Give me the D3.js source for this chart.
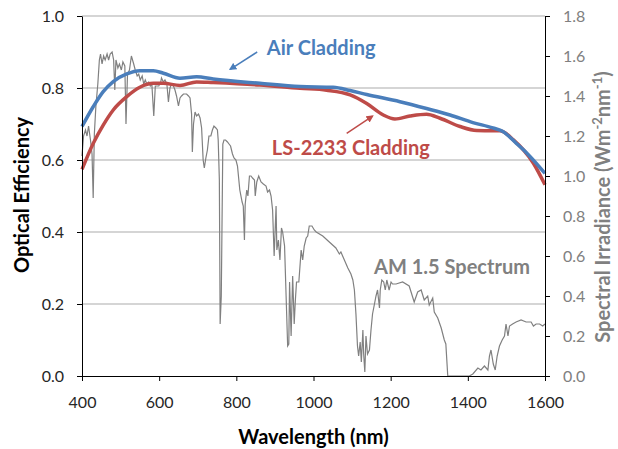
<!DOCTYPE html>
<html>
<head>
<meta charset="utf-8">
<script src="https://cdn.jsdelivr.net/npm/d3@7"></script>
<style>
  body { margin: 0; background: #fff; }
  svg { display: block; font-family: Lato, "Open Sans", sans-serif; }
</style>
</head>
<body>
<div id="chart"></div>
<script>
// Optical efficiency (left axis) and AM 1.5 spectrum (right axis) vs wavelength
const airWl  = [400, 429, 455, 481, 516, 550, 585, 611, 654, 697, 740, 861, 965, 1051, 1095, 1138, 1224, 1293, 1354, 1413, 1465, 1491, 1526, 1553, 1600];
const airEff = [0.693, 0.748, 0.790, 0.818, 0.839, 0.848, 0.848, 0.841, 0.827, 0.831, 0.825, 0.813, 0.804, 0.802, 0.793, 0.782, 0.762, 0.743, 0.725, 0.704, 0.689, 0.679, 0.646, 0.619, 0.563];

const lsWl  = [400, 429, 455, 481, 516, 550, 585, 611, 654, 697, 740, 861, 965, 1034, 1095, 1138, 1181, 1211, 1250, 1293, 1328, 1380, 1423, 1484, 1518, 1570, 1600];
const lsEff = [0.574, 0.646, 0.697, 0.739, 0.776, 0.802, 0.813, 0.813, 0.807, 0.817, 0.815, 0.808, 0.799, 0.794, 0.781, 0.757, 0.725, 0.714, 0.722, 0.727, 0.716, 0.693, 0.682, 0.681, 0.656, 0.591, 0.531];

const specWl = [400, 404, 409, 413, 417, 422, 426, 429, 432, 436, 441, 445, 448, 452, 456, 460, 465, 469, 473, 478, 482, 485, 488, 493, 497, 502, 506, 511, 514, 518, 523, 528, 534, 538, 543, 547, 551, 556, 560, 564, 568, 573, 577, 581, 586, 590, 599,
  604, 606, 611, 615, 620, 624, 628, 632, 637, 641, 645, 650, 654, 658, 663, 671, 676, 680, 684, 686, 689, 693, 697, 702, 706, 710, 714, 717, 721, 725, 729, 734, 738, 742, 747, 751, 753, 756, 758, 761, 765, 768, 772, 777, 781, 785, 790, 794, 799,
  803, 809, 815, 818, 821, 823, 827, 830, 834, 838, 842, 847, 849, 853, 858, 864, 870, 877, 881, 886, 890, 894, 898, 903, 905, 909, 913, 917, 920, 925, 929, 933, 936, 938, 942, 946, 950, 953, 956, 962, 968, 972, 976, 981, 985, 989, 996,
  1002, 1007, 1024, 1041, 1058, 1067, 1071, 1080, 1089, 1097, 1102, 1106, 1110, 1114, 1117, 1121, 1124, 1128, 1130, 1133, 1136, 1140, 1145, 1149, 1153, 1158, 1162, 1166, 1171, 1173, 1177, 1182, 1186, 1190, 1196, 1201, 1205,
  1214, 1231, 1248, 1261, 1270, 1279, 1287, 1296, 1300, 1309, 1313, 1322, 1331, 1339, 1343, 1348, 1404, 1413, 1426, 1434, 1443, 1452, 1456, 1460, 1466, 1471, 1476, 1482, 1489, 1495, 1499, 1504, 1508, 1516, 1525, 1538, 1551, 1564, 1570, 1577, 1586, 1594, 1600];
const specIrr = [1.10, 1.20, 1.23, 1.20, 1.25, 1.18, 1.11, 0.89, 1.21, 1.35, 1.46, 1.58, 1.61, 1.56, 1.60, 1.58, 1.61, 1.58, 1.61, 1.62, 1.58, 1.43, 1.58, 1.54, 1.56, 1.53, 1.57, 1.55, 1.26, 1.51, 1.53, 1.60, 1.56, 1.53, 1.50, 1.51, 1.48, 1.50, 1.46, 1.48, 1.46, 1.47, 1.45, 1.46, 1.30, 1.45, 1.45,
  1.47, 1.49, 1.47, 1.48, 1.46, 1.37, 1.44, 1.46, 1.45, 1.43, 1.40, 1.35, 1.39, 1.40, 1.41, 1.41, 1.40, 1.39, 1.31, 1.12, 1.26, 1.32, 1.30, 1.31, 1.29, 1.24, 1.08, 1.04, 1.09, 1.13, 1.20, 1.20, 1.23, 1.25, 1.24, 1.23, 1.18, 0.98, 0.26, 0.40, 1.16, 1.18, 1.18, 1.17, 1.16, 1.15, 1.11, 1.09, 1.08,
  1.05, 0.93, 0.87, 0.85, 0.68, 0.86, 0.93, 0.90, 1.00, 1.00, 0.99, 0.98, 0.90, 0.97, 1.00, 0.97, 0.96, 0.95, 0.92, 0.93, 0.90, 0.83, 0.60, 0.85, 0.63, 0.68, 0.58, 0.74, 0.72, 0.65, 0.40, 0.15, 0.16, 0.47, 0.20, 0.50, 0.26, 0.38, 0.47, 0.47, 0.63, 0.58, 0.65, 0.69, 0.70, 0.75, 0.75,
  0.73, 0.72, 0.70, 0.67, 0.64, 0.61, 0.62, 0.58, 0.54, 0.51, 0.48, 0.43, 0.31, 0.15, 0.10, 0.17, 0.07, 0.23, 0.11, 0.02, 0.20, 0.11, 0.13, 0.23, 0.31, 0.36, 0.40, 0.43, 0.34, 0.43, 0.48, 0.47, 0.43, 0.48, 0.43, 0.47, 0.46,
  0.46, 0.47, 0.45, 0.37, 0.42, 0.43, 0.38, 0.40, 0.355, 0.39, 0.32, 0.29, 0.24, 0.18, 0.16, 0.00, 0.00, 0.01, 0.04, 0.03, 0.05, 0.03, 0.10, 0.13, 0.06, 0.03, 0.10, 0.15, 0.18, 0.20, 0.26, 0.20, 0.25, 0.26, 0.27, 0.28, 0.27, 0.27, 0.25, 0.26, 0.26, 0.25, 0.26];

const xTicks  = [400, 600, 800, 1000, 1200, 1400, 1600];
const yTicks  = [0, 0.2, 0.4, 0.6, 0.8, 1.0];
const y2Ticks = [0, 0.2, 0.4, 0.6, 0.8, 1.0, 1.2, 1.4, 1.6, 1.8];

const width = 618, height = 449;
const margin = { top: 16, right: 73, bottom: 73, left: 82 };
const innerW = width - margin.left - margin.right;
const innerH = height - margin.top - margin.bottom;

const blue = "#4a7ebb", red = "#be4b48", grey = "#808080";

const svg = d3.select("#chart").append("svg")
    .attr("width", width).attr("height", height);

const defs = svg.append("defs");
[["arrowBlue", blue], ["arrowRed", red]].forEach(([id, c]) => {
    defs.append("marker").attr("id", id)
        .attr("viewBox", "0 0 10 10").attr("refX", 8).attr("refY", 5)
        .attr("markerWidth", 5).attr("markerHeight", 5).attr("orient", "auto")
        .append("path").attr("d", "M0,0L10,5L0,10z").attr("fill", c);
});

const g = svg.append("g").attr("transform", `translate(${margin.left},${margin.top})`);

const x  = d3.scaleLinear().domain([400, 1600]).range([0, innerW]);
const y  = d3.scaleLinear().domain([0, 1.0]).range([innerH, 0]);
const y2 = d3.scaleLinear().domain([0, 1.8]).range([innerH, 0]);

// Gridlines
g.append("g").selectAll("line").data(yTicks.filter(d => d > 0)).join("line")
    .attr("x1", 0).attr("x2", innerW)
    .attr("y1", d => y(d)).attr("y2", d => y(d))
    .attr("stroke", "#ababab").attr("stroke-width", 1);

// Spectrum
const specData = specWl.map((w, i) => ({ w, v: specIrr[i] }));
g.append("path").datum(specData)
    .attr("fill", "none").attr("stroke", grey).attr("stroke-width", 1.2)
    .attr("d", d3.line().x(d => x(d.w)).y(d => y2(d.v)));

// Efficiency curves
const effLine = d3.line().x(d => x(d.w)).y(d => y(d.v)).curve(d3.curveMonotoneX);
const lsData  = lsWl.map((w, i) => ({ w, v: lsEff[i] }));
const airData = airWl.map((w, i) => ({ w, v: airEff[i] }));
g.append("path").datum(lsData)
    .attr("fill", "none").attr("stroke", red).attr("stroke-width", 3.5)
    .attr("d", effLine);
g.append("path").datum(airData)
    .attr("fill", "none").attr("stroke", blue).attr("stroke-width", 3.5)
    .attr("d", effLine);

// Axes
const xAxis = g.append("g").attr("transform", `translate(0,${innerH})`)
    .call(d3.axisBottom(x).tickValues(xTicks).tickFormat(d3.format("d"))
        .tickSize(5).tickPadding(16).tickSizeOuter(0));
const yAxis = g.append("g")
    .call(d3.axisLeft(y).tickValues(yTicks).tickFormat(d3.format(".1f")).tickSize(5).tickPadding(13).tickSizeOuter(0));
const y2Axis = g.append("g").attr("transform", `translate(${innerW},0)`)
    .call(d3.axisRight(y2).tickValues(y2Ticks).tickFormat(d3.format(".1f")).tickSize(5).tickPadding(13).tickSizeOuter(0));

[xAxis, yAxis, y2Axis].forEach(a => {
    a.selectAll(".domain, line").attr("stroke", "#000");
    a.selectAll("text").style("font-size", "16px").attr("fill", "#262626")
        .style("font-family", "Lato, sans-serif");
});
y2Axis.selectAll("text").attr("fill", grey);

// Axis titles
svg.append("text")
    .attr("transform", `translate(${margin.left + innerW / 2},444)`)
    .attr("text-anchor", "middle").style("font-size", "20px").style("font-weight", "bold")
    .attr("fill", "#000").text("Wavelength (nm)");
svg.append("text")
    .attr("transform", "translate(29,195) rotate(-90)")
    .attr("text-anchor", "middle").style("font-size", "20px").style("font-weight", "bold")
    .attr("fill", "#000").text("Optical Efficiency");
const rt = svg.append("text")
    .attr("transform", "translate(610,207) rotate(-90)")
    .attr("text-anchor", "middle").style("font-size", "20px").style("font-weight", "bold")
    .attr("fill", grey);
rt.append("tspan").text("Spectral Irradiance (Wm");
rt.append("tspan").attr("baseline-shift", "super").style("font-size", "13px").text("-2");
rt.append("tspan").text("nm");
rt.append("tspan").attr("baseline-shift", "super").style("font-size", "13px").text("-1");
rt.append("tspan").text(")");

// Annotations (placed in data units)
g.append("text").attr("x", x(879)).attr("y", y(0.892))
    .style("font-size", "20px").style("font-weight", "bold").attr("fill", blue)
    .text("Air Cladding");
g.append("line")
    .attr("x1", x(854)).attr("y1", y(0.900)).attr("x2", x(784)).attr("y2", y(0.852))
    .attr("stroke", blue).attr("stroke-width", 1.5).attr("marker-end", "url(#arrowBlue)");

g.append("text").attr("x", x(892)).attr("y", y(0.614))
    .style("font-size", "20px").style("font-weight", "bold").attr("fill", red)
    .text("LS-2233 Cladding");
g.append("line")
    .attr("x1", x(1086)).attr("y1", y(0.674)).attr("x2", x(1153)).attr("y2", y(0.722))
    .attr("stroke", red).attr("stroke-width", 1.5).attr("marker-end", "url(#arrowRed)");

g.append("text").attr("x", x(1157)).attr("y", y2(0.51))
    .style("font-size", "20px").style("font-weight", "bold").attr("fill", grey)
    .text("AM 1.5 Spectrum");
</script>
</body>
</html>
